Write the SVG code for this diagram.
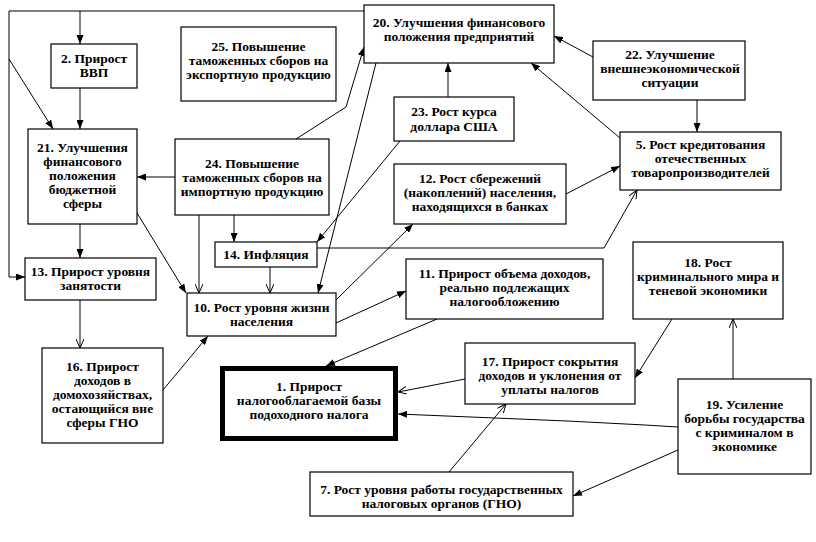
<svg xmlns="http://www.w3.org/2000/svg" width="816" height="542" viewBox="0 0 816 542">
<style>
.box{fill:#fff;stroke:#000;stroke-width:1.2}
.thick{fill:#fff;stroke:#000;stroke-width:5}
text{font-family:"Liberation Serif","Times New Roman",serif;font-size:13.5px;font-weight:bold;text-anchor:middle;fill:#000}
.c{fill:none;stroke:#000;stroke-width:1}
.f{marker-end:url(#af)}
.o{marker-end:url(#ao)}
</style>
<defs>
<marker id="af" markerUnits="userSpaceOnUse" markerWidth="9" markerHeight="7" refX="9" refY="3.5" orient="auto">
<path d="M0,0 L9,3.5 L0,7 z" fill="#000"/>
</marker>
<marker id="ao" markerUnits="userSpaceOnUse" markerWidth="9" markerHeight="8" refX="9" refY="4" orient="auto">
<path d="M0,0 L9,4 L0,8" fill="none" stroke="#000" stroke-width="1"/>
</marker>
</defs>
<rect width="816" height="542" fill="#fff"/>
<g id="connectors">
<polyline class="c" points="364,11 9,11 9,277 25,277" marker-end="url(#af)"/>
<line class="c f" x1="80" y1="11" x2="80" y2="44"/>
<line class="c f" x1="9" y1="59" x2="53" y2="129"/>
<line class="c f" x1="80" y1="88" x2="80" y2="129"/>
<line class="c f" x1="80" y1="224" x2="80" y2="258"/>
<line class="c o" x1="80" y1="300" x2="80" y2="348"/>
<line class="c f" x1="175" y1="177" x2="137" y2="177"/>
<line class="c f" x1="137" y1="213" x2="186" y2="293"/>
<line class="c o" x1="199" y1="215" x2="199" y2="293"/>
<line class="c f" x1="234" y1="215" x2="234" y2="242"/>
<line class="c o" x1="270" y1="267" x2="270" y2="293"/>
<polyline class="c f" points="296,139 346,107 364,47"/>
<line class="c f" x1="376" y1="63" x2="318" y2="293"/>
<line class="c f" x1="400" y1="141" x2="317" y2="242"/>
<line class="c f" x1="448" y1="97" x2="448" y2="63"/>
<line class="c f" x1="593" y1="57" x2="554" y2="36"/>
<line class="c f" x1="697" y1="100" x2="697" y2="132"/>
<line class="c f" x1="620" y1="138" x2="531" y2="63"/>
<line class="c f" x1="566" y1="194" x2="620" y2="166"/>
<line class="c f" x1="336" y1="300" x2="413" y2="224"/>
<polyline class="c o" points="317,248 604,248 637,190"/>
<line class="c f" x1="336" y1="323" x2="406" y2="291"/>
<line class="c f" x1="437" y1="319" x2="326" y2="366"/>
<line class="c f" x1="163" y1="390" x2="208" y2="336"/>
<line class="c o" x1="465" y1="379" x2="398" y2="392"/>
<polyline class="c f" points="678,427 645,425 567,421 398,414"/>
<line class="c f" x1="678" y1="450" x2="573" y2="496"/>
<line class="c o" x1="733" y1="379" x2="733" y2="319"/>
<line class="c f" x1="672" y1="319" x2="635" y2="378"/>
<line class="c o" x1="449" y1="472" x2="506" y2="404"/>
</g>
<g id="node-2"><rect class="box" x="51" y="44" width="86" height="44"/><text x="94" y="63">2. Прирост</text><text x="94" y="77">ВВП</text></g>
<g id="node-25"><rect class="box" x="181" y="27" width="155" height="74"/><text x="258.5" y="51">25. Повышение</text><text x="258.5" y="65">таможенных сборов на</text><text x="258.5" y="79">экспортную продукцию</text></g>
<g id="node-20"><rect class="box" x="364" y="5" width="190" height="58"/><text x="459" y="27">20. Улучшения финансового</text><text x="459" y="41">положения предприятий</text></g>
<g id="node-22"><rect class="box" x="593" y="41" width="152" height="59"/><text x="670" y="59">22. Улучшение</text><text x="670" y="73">внешнеэкономической</text><text x="670" y="87">ситуации</text></g>
<g id="node-23"><rect class="box" x="394" y="97" width="120" height="44"/><text x="454" y="116">23. Рост курса</text><text x="454" y="131">доллара США</text></g>
<g id="node-5"><rect class="box" x="620" y="132" width="161" height="58"/><text x="700.5" y="149">5. Рост кредитования</text><text x="700.5" y="163">отечественных</text><text x="700.5" y="177">товаропроизводителей</text></g>
<g id="node-21"><rect class="box" x="28" y="129" width="109" height="95"/><text x="82.5" y="152">21. Улучшения</text><text x="82.5" y="166">финансового</text><text x="82.5" y="180">положения</text><text x="82.5" y="194">бюджетной</text><text x="82.5" y="208">сферы</text></g>
<g id="node-24"><rect class="box" x="175" y="139" width="154" height="76"/><text x="252" y="168">24. Повышение</text><text x="252" y="182">таможенных сборов на</text><text x="252" y="196">импортную продукцию</text></g>
<g id="node-12"><rect class="box" x="394" y="164" width="172" height="60"/><text x="480" y="183">12. Рост сбережений</text><text x="480" y="197">(накоплений) населения,</text><text x="480" y="211">находящихся в банках</text></g>
<g id="node-14"><rect class="box" x="215" y="242" width="102" height="25"/><text x="266" y="259">14. Инфляция</text></g>
<g id="node-13"><rect class="box" x="25" y="258" width="131" height="42"/><text x="90.5" y="276">13. Прирост уровня</text><text x="90.5" y="290">занятости</text></g>
<g id="node-10"><rect class="box" x="187" y="293" width="149" height="43"/><text x="261.5" y="312">10. Рост уровня жизни</text><text x="261.5" y="326">населения</text></g>
<g id="node-11"><rect class="box" x="406" y="259" width="197" height="60"/><text x="504.5" y="278">11. Прирост объема доходов,</text><text x="504.5" y="292">реально подлежащих</text><text x="504.5" y="306">налогообложению</text></g>
<g id="node-18"><rect class="box" x="633" y="242" width="150" height="77"/><text x="708" y="267">18. Рост</text><text x="708" y="281">криминального мира и</text><text x="708" y="295">теневой экономики</text></g>
<g id="node-16"><rect class="box" x="42" y="348" width="121" height="95"/><text x="102.5" y="371">16. Прирост</text><text x="102.5" y="385">доходов в</text><text x="102.5" y="399">домохозяйствах,</text><text x="102.5" y="413">остающийся вне</text><text x="102.5" y="427">сферы ГНО</text></g>
<g id="node-1"><rect class="thick" x="222.5" y="368.5" width="173" height="70"/><text x="309" y="391">1. Прирост</text><text x="309" y="405">налогооблагаемой базы</text><text x="309" y="419">подоходного налога</text></g>
<g id="node-17"><rect class="box" x="465" y="343" width="170" height="61"/><text x="550" y="366">17. Прирост сокрытия</text><text x="550" y="380">доходов и уклонения от</text><text x="550" y="394">уплаты налогов</text></g>
<g id="node-19"><rect class="box" x="678" y="379" width="133" height="95"/><text x="744.5" y="409">19. Усиление</text><text x="744.5" y="423">борьбы государства</text><text x="744.5" y="437">с криминалом в</text><text x="744.5" y="451">экономике</text></g>
<g id="node-7"><rect class="box" x="310" y="472" width="263" height="44"/><text x="441.5" y="494">7. Рост уровня работы государственных</text><text x="441.5" y="508">налоговых органов (ГНО)</text></g>
</svg>
